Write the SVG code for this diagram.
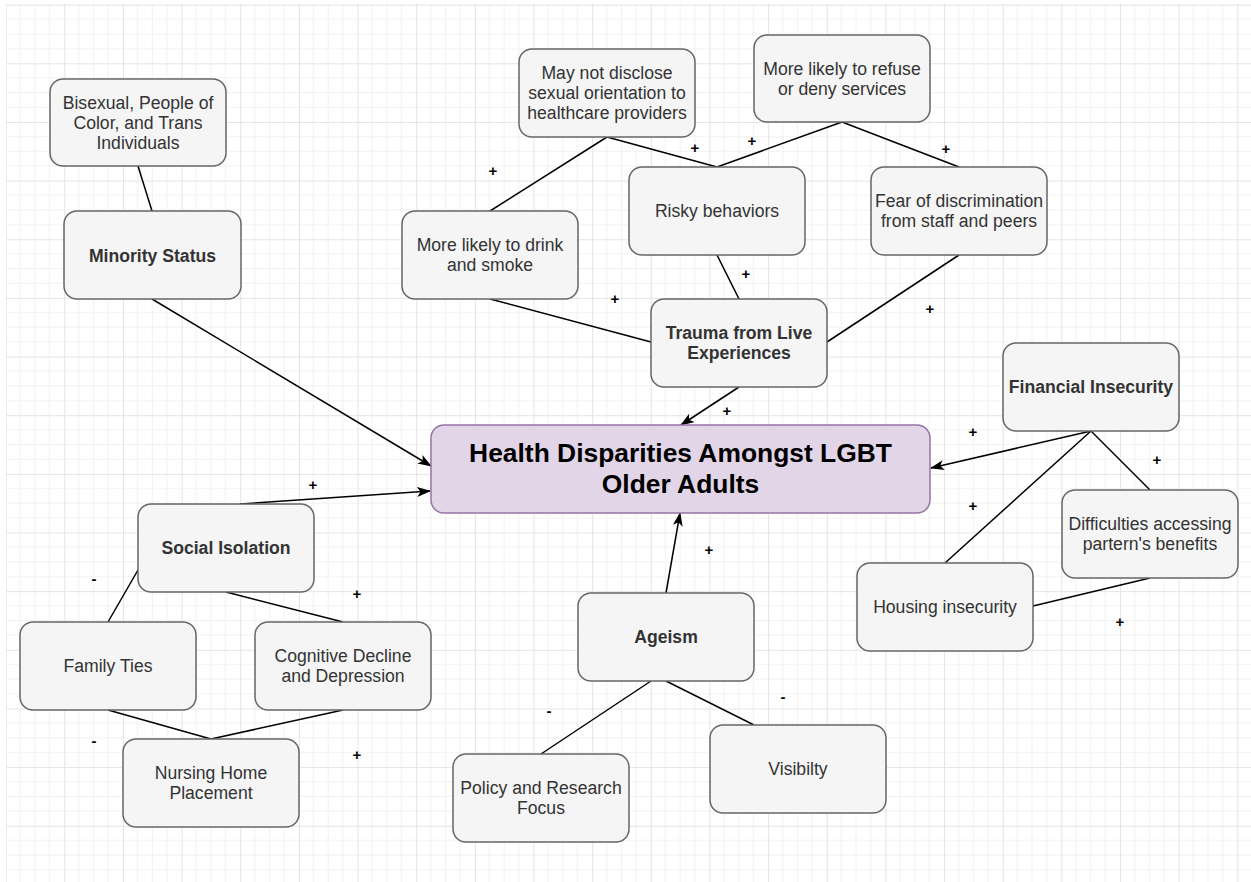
<svg xmlns="http://www.w3.org/2000/svg" width="1251" height="882" viewBox="0 0 1251 882">
<defs>
<pattern id="grid" patternUnits="userSpaceOnUse" x="5.65" y="4.65" width="58.65" height="58.65">
<path d="M14.66,0V58.65M29.33,0V58.65M43.99,0V58.65M0,14.66H58.65M0,29.33H58.65M0,43.99H58.65" stroke="#f1f1f1" stroke-width="1" fill="none"/>
<path d="M0.5,0V58.65M0,0.5H58.65" stroke="#e4e4e4" stroke-width="1" fill="none"/>
</pattern>
<marker id="arr" markerUnits="userSpaceOnUse" viewBox="0 0 14 10" markerWidth="14" markerHeight="10" refX="13" refY="5" orient="auto">
<path d="M0,0 L14,5 L0,10 L3.5,5 Z" fill="#000"/>
</marker>
</defs>
<style>
.node rect{fill:#f5f5f5;stroke:#666666;stroke-width:1.5}
.node text{font-family:"Liberation Sans",Arial,sans-serif;font-size:17.6px;fill:#333333;text-anchor:middle}
.node text.b{font-weight:bold}
#central rect{fill:#e1d5e7;stroke:#9673a6;stroke-width:1.5}
#central text{font-family:"Liberation Sans",Arial,sans-serif;font-size:26.4px;font-weight:bold;fill:#000;text-anchor:middle}
.edges line{stroke:#000;stroke-width:1.5;fill:none}
.edges line.a{marker-end:url(#arr)}
.lbl text{font-family:"Liberation Sans",Arial,sans-serif;font-size:15px;font-weight:bold;fill:#000;text-anchor:middle}
</style>
<rect width="1251" height="882" fill="#fff"/>
<rect x="6" y="4" width="1245" height="878" fill="url(#grid)"/>

<g class="edges" id="connectors">
<line x1="138" y1="166" x2="152" y2="211"/>
<line class="a" x1="152" y1="299" x2="431" y2="466"/>
<line x1="607" y1="137" x2="490" y2="211"/>
<line x1="607" y1="137" x2="717" y2="167"/>
<line x1="842" y1="122" x2="717" y2="167"/>
<line x1="842" y1="122" x2="959" y2="167"/>
<line x1="717" y1="255" x2="739" y2="299"/>
<line x1="490" y1="299" x2="651" y2="342"/>
<line x1="959" y1="255" x2="827" y2="342"/>
<line class="a" x1="739" y1="387" x2="681" y2="425"/>
<line class="a" x1="1091" y1="431" x2="931" y2="468"/>
<line x1="1091" y1="431" x2="1150" y2="490"/>
<line x1="1091" y1="431" x2="945" y2="563"/>
<line x1="1150" y1="578" x2="1033" y2="606"/>
<line class="a" x1="240" y1="504" x2="430" y2="491"/>
<line x1="138" y1="570" x2="108" y2="622"/>
<line x1="226" y1="592" x2="343" y2="622"/>
<line x1="108" y1="710" x2="211" y2="739"/>
<line x1="343" y1="710" x2="211" y2="739"/>
<line class="a" x1="666" y1="593" x2="680" y2="513"/>
<line x1="651" y1="681" x2="541" y2="754"/>
<line x1="666" y1="681" x2="754" y2="725"/>
</g>

<g class="lbl" id="labels">
<text x="493" y="176">+</text>
<text x="695" y="153">+</text>
<text x="752" y="146">+</text>
<text x="946" y="154">+</text>
<text x="746" y="279">+</text>
<text x="615" y="304">+</text>
<text x="930" y="314">+</text>
<text x="727" y="416">+</text>
<text x="313" y="490">+</text>
<text x="357" y="599">+</text>
<text x="973" y="437">+</text>
<text x="1157" y="465">+</text>
<text x="973" y="511">+</text>
<text x="1120" y="627">+</text>
<text x="709" y="555">+</text>
<text x="357" y="760">+</text>
<text x="94" y="584">-</text>
<text x="94" y="746">-</text>
<text x="549" y="716">-</text>
<text x="783" y="702">-</text>
</g>

<g class="node" id="n-bisexual"><rect x="50" y="79" width="176" height="87" rx="13"/>
<text x="138" y="109">Bisexual, People of</text><text x="138" y="129">Color, and Trans</text><text x="138" y="149">Individuals</text></g>
<g class="node" id="n-minority"><rect x="64" y="211" width="177" height="88" rx="13"/>
<text class="b" x="152.5" y="261.5">Minority Status</text></g>
<g class="node" id="n-disclose"><rect x="519" y="49" width="176" height="88" rx="13"/>
<text x="607" y="79.3">May not disclose</text><text x="607" y="99.3">sexual orientation to</text><text x="607" y="119.3">healthcare providers</text></g>
<g class="node" id="n-refuse"><rect x="754" y="35" width="176" height="87" rx="13"/>
<text x="842" y="75">More likely to refuse</text><text x="842" y="95">or deny services</text></g>
<g class="node" id="n-risky"><rect x="629" y="167" width="176" height="88" rx="13"/>
<text x="717" y="217.3">Risky behaviors</text></g>
<g class="node" id="n-fear"><rect x="871" y="167" width="176" height="88" rx="13"/>
<text x="959" y="207.3">Fear of discrimination</text><text x="959" y="227.3">from staff and peers</text></g>
<g class="node" id="n-drink"><rect x="402" y="211" width="176" height="88" rx="13"/>
<text x="490" y="251.3">More likely to drink</text><text x="490" y="271.3">and smoke</text></g>
<g class="node" id="n-trauma"><rect x="651" y="299" width="176" height="88" rx="13"/>
<text class="b" x="739" y="339.3">Trauma from Live</text><text class="b" x="739" y="359.3">Experiences</text></g>
<g class="node" id="n-financial"><rect x="1003" y="343" width="176" height="88" rx="13"/>
<text class="b" x="1091" y="393.3">Financial Insecurity</text></g>
<g id="central"><rect x="431" y="425" width="499" height="88" rx="13"/>
<text x="680.5" y="462">Health Disparities Amongst LGBT</text><text x="680.5" y="493">Older Adults</text></g>
<g class="node" id="n-difficulties"><rect x="1062" y="490" width="176" height="88" rx="13"/>
<text x="1150" y="530.3">Difficulties accessing</text><text x="1150" y="550.3">partern's benefits</text></g>
<g class="node" id="n-social"><rect x="138" y="504" width="176" height="88" rx="13"/>
<text class="b" x="226" y="554.3">Social Isolation</text></g>
<g class="node" id="n-housing"><rect x="857" y="563" width="176" height="88" rx="13"/>
<text x="945" y="613.3">Housing insecurity</text></g>
<g class="node" id="n-ageism"><rect x="578" y="593" width="176" height="88" rx="13"/>
<text class="b" x="666" y="643.3">Ageism</text></g>
<g class="node" id="n-family"><rect x="20" y="622" width="176" height="88" rx="13"/>
<text x="108" y="672.3">Family Ties</text></g>
<g class="node" id="n-cognitive"><rect x="255" y="622" width="176" height="88" rx="13"/>
<text x="343" y="662.3">Cognitive Decline</text><text x="343" y="682.3">and Depression</text></g>
<g class="node" id="n-nursing"><rect x="123" y="739" width="176" height="88" rx="13"/>
<text x="211" y="779.3">Nursing Home</text><text x="211" y="799.3">Placement</text></g>
<g class="node" id="n-policy"><rect x="453" y="754" width="176" height="88" rx="13"/>
<text x="541" y="794.3">Policy and Research</text><text x="541" y="814.3">Focus</text></g>
<g class="node" id="n-visibility"><rect x="710" y="725" width="176" height="88" rx="13"/>
<text x="798" y="775.3">Visibilty</text></g>
</svg>
